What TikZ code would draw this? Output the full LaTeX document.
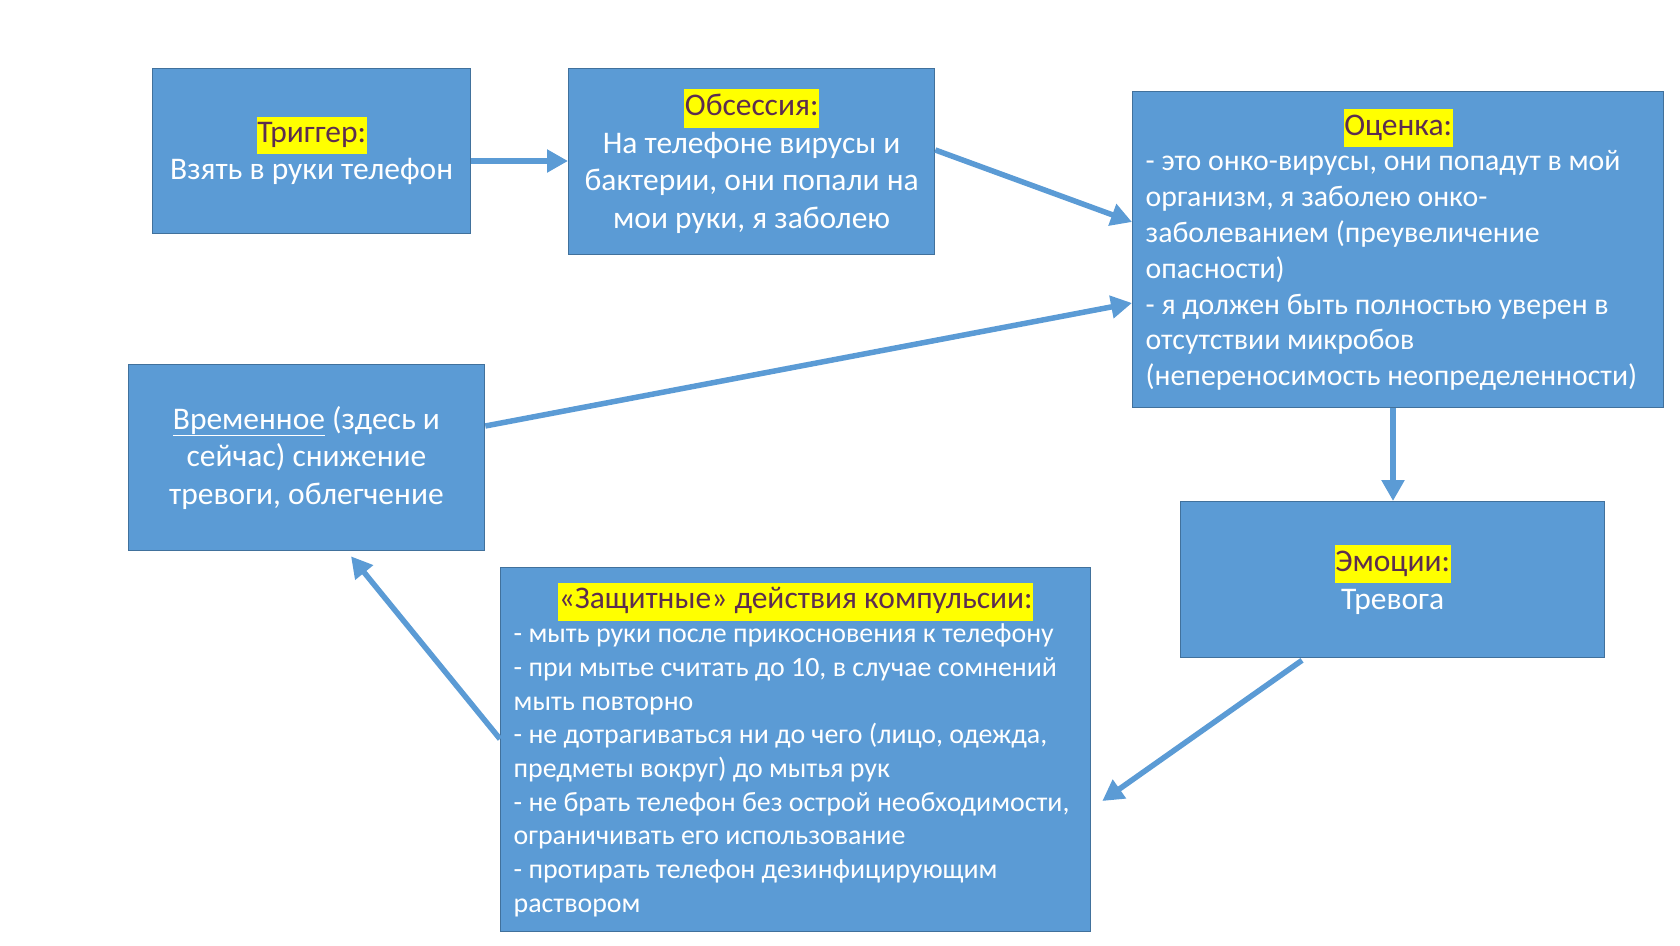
\documentclass[tikz,border=0pt]{standalone}
\usepackage{fontspec}
\setmainfont{Carlito}
\usetikzlibrary{arrows.meta,calc}
\definecolor{boxfill}{HTML}{5B9BD5}
\definecolor{boxline}{HTML}{41719C}
\definecolor{arrowc}{HTML}{5B9BD5}
\definecolor{hdrc}{HTML}{5C2D50}
\definecolor{hlc}{HTML}{FFFF00}
\newcommand{\hdr}[1]{{\setlength{\fboxsep}{0.5pt}\colorbox{hlc}{\strut\color{hdrc}#1}}}
\newcommand{\bighdr}[1]{{\fontsize{31.5}{37}\selectfont\hdr{#1}}}
\newcommand{\nsp}{\spaceskip=0pt\xspaceskip=0pt\relax}
\begin{document}
\begin{tikzpicture}[x=1pt,y=-1pt,
  blk/.style={draw=boxline, line width=1.3pt, fill=boxfill, text=white, inner sep=13pt, anchor=north west},
  cblk/.style={blk, align=center},
  lblk/.style={blk, align=left},
  arr/.style={draw=arrowc, line width=5.5pt, -{Triangle[length=21pt,width=22pt]}}]
\useasboundingbox (0,0) rectangle (1680,945);

\node[cblk, minimum width=318pt, minimum height=165pt, font=\fontsize{31.5}{36.5}\selectfont] (trig) at (152,67.5)
  {\nsp\hdr{Триггер:}\\ Взять в руки телефон};

\node[cblk, minimum width=366pt, minimum height=186.5pt, font=\fontsize{31.5}{37.5}\selectfont] (obs) at (568,67.5)
  {\nsp\hdr{Обсессия:}\\ На телефоне вирусы и\\ бактерии, они попали на\\ мои руки, я заболею};

\node[lblk, text width=505pt, minimum height=316pt, font=\fontsize{29.8}{35.8}\selectfont] (ocen) at (1132,91)
  {\nsp\makebox[\hsize][c]{\bighdr{Оценка:}}\\
   \mbox{- это онко-вирусы, они попадут в мой}\\
   \mbox{организм, я заболею онко-}\\
   \mbox{заболеванием (преувеличение}\\
   \mbox{опасности)}\\
   \mbox{- я должен быть полностью уверен в}\\
   \mbox{отсутствии микробов}\\
   \mbox{(непереносимость неопределенности)}};

\node[cblk, minimum width=424pt, minimum height=156pt, font=\fontsize{31.5}{37.5}\selectfont] (emo) at (1180,501)
  {\nsp\hdr{Эмоции:}\\ Тревога};

\node[lblk, text width=564pt, minimum height=364pt, font=\fontsize{27.9}{33.7}\selectfont] (comp) at (500,567)
  {\nsp\makebox[\hsize][c]{\bighdr{«Защитные» действия компульсии:}}\\
   \mbox{- мыть руки после прикосновения к телефону}\\
   \mbox{- при мытье считать до 10, в случае сомнений}\\
   \mbox{мыть повторно}\\
   \mbox{- не дотрагиваться ни до чего (лицо, одежда,}\\
   \mbox{предметы вокруг) до мытья рук}\\
   \mbox{- не брать телефон без острой необходимости,}\\
   \mbox{ограничивать его использование}\\
   \mbox{- протирать телефон дезинфицирующим}\\
   \mbox{раствором}};

\node[cblk, minimum width=356.5pt, minimum height=186pt, font=\fontsize{31.5}{37.5}\selectfont] (temp) at (127.5,364)
  {\nsp\underline{Временное} (здесь и\\ сейчас) снижение\\ тревоги, облегчение};

\draw[arr] ($(trig.north east)+(0,93.5)$) -- ($(obs.north west)+(0,93.5)$);
\draw[arr] ($(obs.north east)+(0,82.5)$) -- ($(ocen.north west)+(0,131)$);
\draw[arr] ($(ocen.south west)+(261,0)$) -- ($(emo.north west)+(213,0)$);
\draw[arr] ($(emo.south west)+(122,2)$) -- ($(comp.north east)+(11,234)$);
\draw[arr] ($(comp.north west)+(0,172)$) -- ($(temp.south west)+(223.5,5)$);
\draw[arr] ($(temp.north east)+(0,62)$) -- ($(ocen.north west)+(0,212)$);
\end{tikzpicture}
\end{document}
